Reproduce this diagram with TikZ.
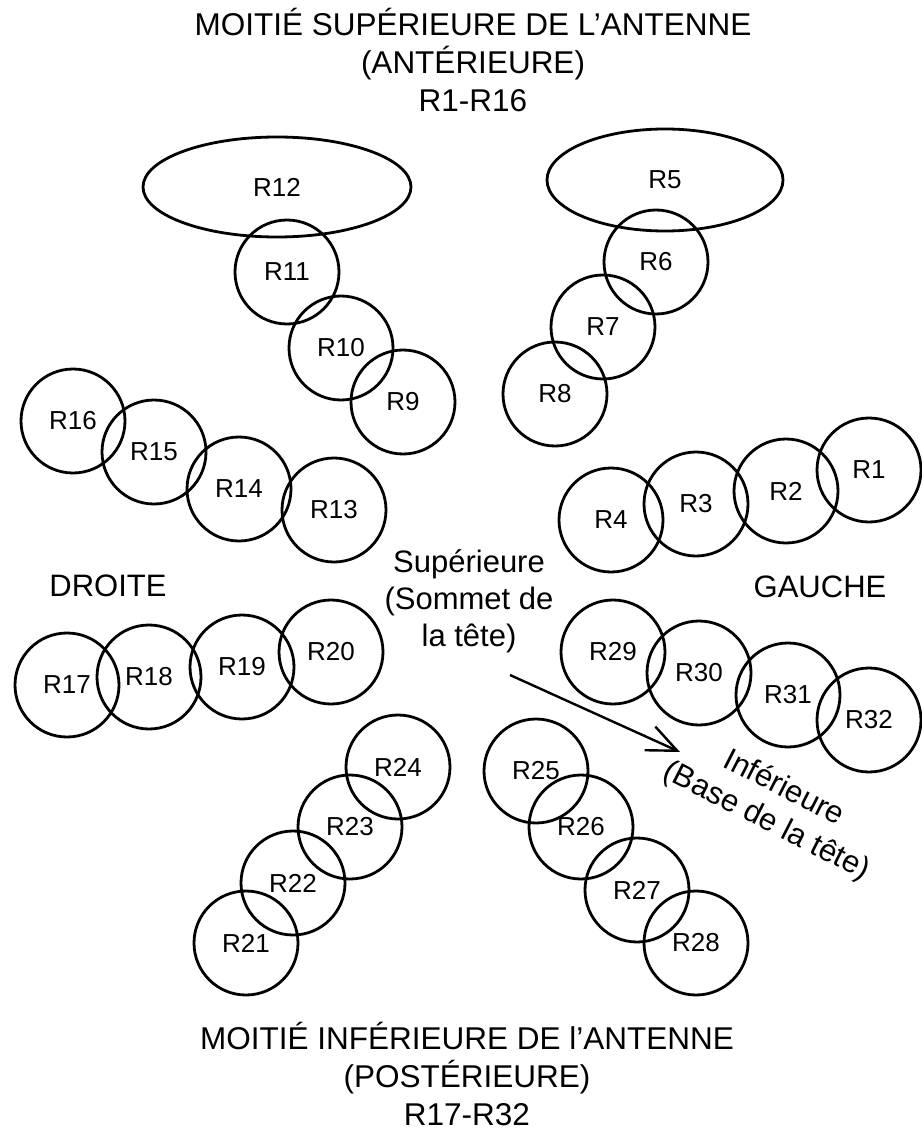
\documentclass[tikz,border=0pt]{standalone}
\usepackage{fontspec}
\setmainfont{Liberation Sans}
\usetikzlibrary{shapes.geometric,arrows.meta}

\begin{document}
\begin{tikzpicture}[x=1pt,y=-1pt,
        ring/.style={draw,circle,line width=2.8pt,minimum size=104pt,inner sep=0pt,font=\fontsize{26}{30}\selectfont},
        oval/.style={draw,ellipse,line width=2.8pt,inner sep=0pt,font=\fontsize{26}{30}\selectfont},
        title/.style={align=center,inner sep=0pt,font=\fontsize{31.5}{38}\selectfont},
        side/.style={align=center,font=\fontsize{31}{37}\selectfont}]

    \useasboundingbox (0,0) rectangle (921,1131);

    % titres
    \node[title] (haut) at (473,60) {MOITIÉ SUPÉRIEURE DE L’ANTENNE\\(ANTÉRIEURE)\\R1-R16};
    \node[title] (bas) at (467,1074) {MOITIÉ INFÉRIEURE DE l’ANTENNE\\(POSTÉRIEURE)\\R17-R32};
    \node[side] (droite) at (108,586) {DROITE};
    \node[side] (gauche) at (820,587) {GAUCHE};
    \node[side] (sup) at (469,601) {Supérieure\\(Sommet de\\la tête)};
    \node[side,rotate=-27] (inf) at (775,805) {Inférieure\\(Base de la tête)};

    % moitie superieure
    \node[oval,minimum width=236pt,minimum height=102pt] (r5) at (665,180) {R5};
    \node[oval,minimum width=268pt,minimum height=100pt] (r12) at (277,187) {R12};
    \node[ring] (r1) at (869,470) {R1};
    \node[ring] (r2) at (786,491) {R2};
    \node[ring] (r3) at (696,504) {R3};
    \node[ring] (r4) at (611,520) {R4};
    \node[ring] (r6) at (656,262) {R6};
    \node[ring] (r7) at (603,327) {R7};
    \node[ring] (r8) at (555,394) {R8};
    \node[ring] (r9) at (403,402) {R9};
    \node[ring] (r10) at (341,348) {R10};
    \node[ring] (r11) at (287,272) {R11};
    \node[ring] (r13) at (334,510) {R13};
    \node[ring] (r14) at (239,489) {R14};
    \node[ring] (r15) at (154,452) {R15};
    \node[ring] (r16) at (73,421) {R16};

    % moitie inferieure
    \node[ring] (r17) at (67,685) {R17};
    \node[ring] (r18) at (149,677) {R18};
    \node[ring] (r19) at (242,667) {R19};
    \node[ring] (r20) at (331,652) {R20};
    \node[ring] (r21) at (246,943) {R21};
    \node[ring] (r22) at (293,883) {R22};
    \node[ring] (r23) at (350,827) {R23};
    \node[ring] (r24) at (398,767) {R24};
    \node[ring] (r25) at (536,771) {R25};
    \node[ring] (r26) at (581,827) {R26};
    \node[ring] (r27) at (637,890) {R27};
    \node[ring] (r28) at (696,943) {R28};
    \node[ring] (r29) at (613,652) {R29};
    \node[ring] (r30) at (699,673) {R30};
    \node[ring] (r31) at (788,695) {R31};
    \node[ring] (r32) at (869,720) {R32};

    \coordinate (fleche) at (510,675);
    \coordinate (pointe) at (680,752);
    \draw[line width=2.4pt,-{Straight Barb[length=30pt,width=26pt]}] (fleche) -- (pointe);
\end{tikzpicture}
\end{document}
